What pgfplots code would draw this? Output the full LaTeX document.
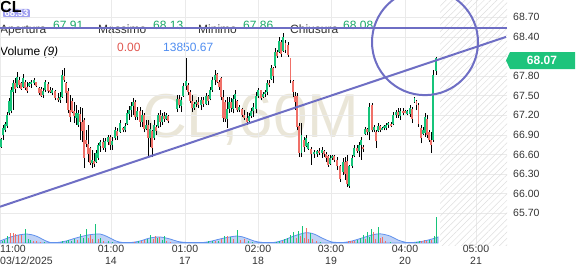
\documentclass[border=0pt]{standalone}
\usepackage{fontspec}
\setmainfont{Liberation Sans}
\usepackage{pgfplots}
\pgfplotsset{compat=1.18}
\usepackage{pgfplotstable}
\usetikzlibrary{patterns.meta}

\definecolor{cgreen}{RGB}{22,196,122}
\definecolor{cred}{RGB}{240,112,104}
\definecolor{tgreen}{RGB}{24,168,104}
\definecolor{tred}{RGB}{224,86,79}
\definecolor{tblue}{RGB}{79,141,240}
\definecolor{lpurple}{RGB}{110,110,196}
\definecolor{txt}{RGB}{51,51,51}
\definecolor{wm}{RGB}{234,230,216}
\definecolor{gridc}{RGB}{234,234,234}
\definecolor{volline}{RGB}{96,145,236}
\definecolor{volfill}{RGB}{180,202,245}
\definecolor{tagg}{RGB}{30,196,124}
\definecolor{lbox}{RGB}{158,158,240}

% green candles: x low high bodylow bodyhigh
\pgfplotstableread{
x lo hi bl bh
1 66.70 66.85 66.71 66.84
3 66.82 67.05 66.90 67.01
5 66.94 67.10 66.97 67.07
7 67.01 67.25 67.04 67.20
9 67.20 67.47 67.23 67.42
11 67.23 67.63 67.27 67.59
13 67.28 67.74 67.56 67.69
17 67.62 67.86 67.63 67.79
23 67.62 67.83 67.63 67.77
29 67.63 67.71 67.65 67.69
31 67.62 67.74 67.68 67.71
34 67.66 67.77 67.69 67.74
43 67.47 67.62 67.51 67.57
45 67.56 67.74 67.59 67.71
52 67.51 67.62 67.54 67.59
60 67.39 67.56 67.43 67.48
62 67.47 67.89 67.48 67.82
76 67.05 67.36 67.16 67.23
78 67.02 67.28 67.05 67.23
92 66.39 66.67 66.47 66.52
96 66.47 66.67 66.49 66.62
98 66.52 66.77 66.55 66.74
100 66.64 66.82 66.73 66.79
105 66.64 66.85 66.70 66.80
108 66.74 66.90 66.79 66.87
112 66.67 66.87 66.74 66.80
115 66.82 67.02 66.85 66.97
120 66.93 67.13 66.95 67.08
125 66.94 67.08 66.97 67.04
127 67.05 67.28 67.06 67.23
129 67.13 67.34 67.22 67.28
131 67.17 67.40 67.28 67.34
133 67.20 67.47 67.34 67.40
137 67.13 67.33 67.17 67.26
142 67.02 67.28 67.10 67.20
146 66.97 67.13 66.99 67.05
150 66.71 67.08 66.85 66.99
154 66.82 67.13 66.85 67.05
158 67.01 67.23 67.03 67.20
162 67.05 67.23 67.10 67.19
166 67.13 67.23 67.14 67.20
177 67.25 67.51 67.30 67.45
181 67.25 67.48 67.34 67.43
183 67.48 67.69 67.50 67.65
186 67.59 68.08 67.65 67.72
194 67.28 67.40 67.31 67.37
196 67.33 67.43 67.37 67.40
201 67.28 67.48 67.35 67.43
206 67.36 67.54 67.38 67.50
210 67.43 67.63 67.45 67.59
212 67.56 67.79 67.59 67.74
215 67.66 67.89 67.74 67.82
227 67.01 67.48 67.15 67.30
229 67.23 67.48 67.30 67.40
233 67.23 67.51 67.30 67.45
235 67.31 67.59 67.45 67.53
239 67.25 67.36 67.28 67.33
249 67.10 67.23 67.12 67.19
251 67.16 67.31 67.19 67.26
253 67.17 67.39 67.26 67.33
256 67.23 67.56 67.30 67.50
258 67.47 67.62 67.50 67.58
263 67.47 67.56 67.48 67.53
265 67.48 67.59 67.52 67.55
267 67.51 67.74 67.55 67.70
271 67.74 67.97 67.75 67.92
275 67.92 68.23 67.95 68.17
279 68.15 68.40 68.17 68.34
283 68.17 68.46 68.18 68.40
301.5 66.56 67.08 66.62 66.90
306 66.71 66.90 66.73 66.85
308 66.67 66.79 66.68 66.77
314 66.55 66.67 66.60 66.64
317 66.56 66.67 66.60 66.65
322 66.55 66.71 66.62 66.67
330 66.44 66.59 66.46 66.55
332 66.52 66.59 66.55 66.57
343 66.29 66.55 66.33 66.48
349 66.09 66.44 66.12 66.42
352 66.39 66.59 66.42 66.55
354 66.56 66.74 66.58 66.70
359 66.56 66.79 66.66 66.74
361 66.52 66.87 66.74 66.82
365 66.90 67.02 66.92 66.99
369 66.82 67.39 66.94 67.33
374 66.94 67.05 66.97 67.02
378 66.94 67.08 66.96 67.04
382 66.97 67.02 66.98 67.01
384 66.97 67.05 67.00 67.03
386 66.97 67.08 67.00 67.05
388 67.01 67.10 67.05 67.08
393 67.05 67.25 67.06 67.20
396 67.16 67.28 67.20 67.25
400 67.13 67.31 67.19 67.27
407 67.20 67.28 67.22 67.26
410 67.17 67.36 67.22 67.31
414.5 67.39 67.48 67.40 67.46
423 66.90 67.02 66.92 66.97
425 66.87 67.23 66.93 67.18
433.3 66.79 67.90 66.82 67.82
436.3 67.82 68.09 67.88 68.07
}\gtab

% red candles: x low high bodylow bodyhigh
\pgfplotstableread{
x lo hi bl bh
15 67.54 67.77 67.60 67.69
19 67.62 67.79 67.66 67.74
21 67.59 67.71 67.60 67.69
25 67.59 67.74 67.62 67.71
27 67.54 67.71 67.57 67.63
36 67.63 67.71 67.65 67.71
39 67.51 67.63 67.54 67.62
41 67.48 67.63 67.50 67.60
48 67.54 67.71 67.57 67.68
50 67.54 67.63 67.56 67.59
55 67.43 67.59 67.47 67.57
58 67.40 67.54 67.43 67.47
64 67.71 67.92 67.74 67.80
66 67.39 67.71 67.54 67.69
68 67.23 67.62 67.28 67.57
70 67.10 67.51 67.17 67.28
72 67.23 67.47 67.25 67.42
74 67.08 67.40 67.19 67.26
80 66.82 67.33 67.10 67.22
82 66.79 67.31 66.96 67.10
84 66.39 67.16 66.55 67.13
86 66.71 66.97 66.76 66.82
88 66.48 67.05 66.60 66.76
90 66.44 66.71 66.47 66.70
94 66.41 66.62 66.45 66.50
103 66.67 66.85 66.70 66.79
110 66.67 66.90 66.74 66.87
117 66.82 67.01 66.88 66.96
123 66.94 67.02 66.97 67.00
135 67.13 67.43 67.17 67.40
140 67.02 67.33 67.10 67.26
144 66.94 67.23 66.99 67.20
148 66.56 67.13 66.85 67.05
152 66.56 66.97 66.70 66.96
156 66.90 67.05 66.96 67.02
160 67.02 67.28 67.10 67.20
164 67.10 67.25 67.14 67.19
168 67.08 67.20 67.12 67.19
179 67.31 67.51 67.36 67.45
188 67.51 67.69 67.56 67.66
190 67.39 67.59 67.42 67.56
192 67.25 67.51 67.31 67.42
198 67.31 67.48 67.35 67.40
203 67.33 67.48 67.37 67.43
208 67.36 67.51 67.42 67.50
217 67.69 67.85 67.71 67.83
219 67.59 67.74 67.63 67.71
221 67.43 67.79 67.48 67.77
223 67.10 67.59 67.16 67.48
225 67.10 67.43 67.15 67.40
231 67.25 67.47 67.31 67.40
237 67.25 67.43 67.28 67.42
242 67.17 67.31 67.20 67.30
244 67.13 67.28 67.16 67.20
247 67.05 67.25 67.10 67.16
261 67.43 67.59 67.46 67.58
269 67.63 67.74 67.66 67.70
273 67.69 67.94 67.80 67.92
277 68.08 68.20 68.10 68.17
281 68.09 68.35 68.14 68.32
285.5 68.15 68.35 68.20 68.30
288 68.09 68.32 68.12 68.28
290.5 67.69 68.08 67.74 68.07
293 67.48 67.74 67.55 67.72
295 67.28 67.56 67.40 67.50
297 66.97 67.54 67.02 67.50
299 66.56 67.08 66.62 67.03
304 66.64 66.87 66.72 66.82
311 66.44 66.71 66.60 66.68
319 66.59 66.70 66.62 66.65
324 66.56 66.67 66.60 66.65
326 66.48 66.64 66.55 66.60
328 66.41 66.59 66.44 66.57
334 66.48 66.59 66.52 66.57
337 66.36 66.56 66.42 66.52
340 66.18 66.44 66.22 66.42
345 66.21 66.56 66.30 66.48
347 66.10 66.59 66.15 66.50
357 66.62 66.74 66.66 66.70
363 66.64 66.74 66.68 66.72
367 66.90 67.01 66.94 66.99
372 66.94 67.39 66.97 67.35
376 66.70 66.97 66.80 66.95
380 66.94 67.05 66.98 67.03
391 67.02 67.10 67.04 67.07
398 67.16 67.31 67.20 67.25
403 67.20 67.31 67.23 67.27
405 67.23 67.28 67.24 67.27
412 67.08 67.33 67.15 67.30
416.5 67.28 67.43 67.35 67.42
418.5 67.02 67.39 67.06 67.36
421 66.77 67.05 66.85 67.00
427 66.85 67.20 66.90 67.15
429 66.79 66.97 66.82 66.95
431 66.62 66.94 66.75 66.82
}\rtab

% volume (scaled units)
\pgfplotstableread{
x v
2 2
4 3
7 7
25 14
28 4
30 3
44 1
62 2
66 2
68 3
71 2
74 4
80 9
83 5
86 14
95 19
100 5
108 2
112 1
138 2
147 4
150 8
157 5
162 3
164 7
208 2
212 2
218 2
224 7
230 6
237 13
248 2
252 1
276 1
279 2
284 4
287 5
290 8
293 11
298 12
302 17
310 10
320 1
357 3
360 5
363 8
367 11
369 6
371 14
378 16
390 1
416 1
419 2
429 3
434 7
436.5 26
}\gvol

\pgfplotstableread{
x v
10 10
13 10
15 9
18 8
21 8
33 2
36 2
40 1
77 3
88 5
90 8
92 4
98 4
103 2
134 1
141 2
144 3
153 4
155 7
159 6
166 2
170 1
215 2
221 4
227 7
233 4
240 3
244 4
282 2
296 5
300 7
304 5
306 15
308 4
312 4
316 2
348 2
350 2
352 2
354 2
365 4
373 11
375 4
380 5
382 6
385 2
421 2
424 3
426 2
431 3
}\rvol

% volume moving average
\pgfplotstableread{
x v
0 2
8 5
16 7.5
27 9
36 7
44 3
50 0.6
58 0.6
66 2
76 5
88 8
100 9
108 6
116 2
122 0.6
132 0.6
140 2
150 5
160 6
170 4
178 1.5
186 0.6
204 0.6
212 2
222 4.5
237 7
246 5
254 2
262 0.6
274 0.6
284 3
294 7
306 10.3
314 9
322 5
332 1
344 0.6
352 2
362 5
372 8
380 9.2
390 7
398 3
406 0.6
414 0.6
424 2
432 4
438 6
}\vma

\begin{document}
\begin{tikzpicture}[x=1pt,y=1pt]
\path[use as bounding box] (0,0) rectangle (576,-268);

% watermark
\node[anchor=base west, inner sep=0pt, text=wm, font=\fontsize{62}{62}\selectfont] at (142,-137) {CL,60M};

% header
\node[fill=lbox, rounded corners=2pt, text=white, inner xsep=1.5pt, inner ysep=1.2pt, anchor=west, font=\bfseries\fontsize{9.5}{10}\selectfont] at (3,-13.5) {68.53};
\node[anchor=base west, inner sep=0pt, font=\bfseries\fontsize{16}{16}\selectfont] at (0,-12.5) {CL};
\begin{scope}[every node/.style={anchor=base west, inner sep=0pt, font=\fontsize{12}{14}\selectfont}]
\node[text=txt] at (0,-33) {Apertura};
\node[text=tgreen] at (53,-29.3) {67.91};
\node[text=txt] at (98,-33) {Massimo};
\node[text=tgreen] at (153,-29.3) {68.13};
\node[text=txt] at (198,-33) {Minimo};
\node[text=tgreen] at (243,-29.3) {67.86};
\node[text=txt] at (290,-33) {Chiusura};
\node[text=tgreen] at (343,-29.3) {68.08};
\node[text=black] at (0,-55) {Volume \textit{(9)}};
\node[text=tred] at (117,-51.7) {0.00};
\node[text=tblue] at (163,-51.7) {13850.67};
\end{scope}

\begin{axis}[
  at={(0,0)}, anchor=north west,
  scale only axis, width=507pt, height=245pt,
  xmin=0, xmax=507, ymin=65.214, ymax=68.965,
  axis line style={draw=none}, major tick length=0pt,
  ytick={65.7,66.0,66.3,66.6,66.9,67.2,67.5,67.8,68.4,68.7},
  extra y ticks={68.1}, extra y tick labels={},
  yticklabel pos=right,
  yticklabel={\pgfmathprintnumber[fixed,fixed zerofill,precision=2,assume math mode=true]{\tick}},
  yticklabel style={anchor=west, inner sep=0pt, xshift=6pt, text=txt, font=\fontsize{10.5}{12}\selectfont},
  xtick={111,185,258,331,405,476},
  xticklabels={{01:00\\14},{01:00\\17},{02:00\\18},{03:00\\19},{04:00\\20},{05:00\\21}},
  xticklabel style={align=center, inner sep=0pt, text=txt, font=\fontsize{10.5}{12}\selectfont},
  extra x ticks={0},
  extra x tick labels={{11:00\\03/12/2025}},
  extra x tick style={xticklabel style={anchor=north west, align=left}},
  grid=major, major grid style={draw=gridc, line width=0.7pt},
  extra tick style={grid=major},
]
\fill[pattern={Lines[angle=45,distance=4.5pt,line width=0.5pt]}, pattern color=black!13] (axis cs:440,65.214) rectangle (axis cs:507,68.965);

\addplot[draw=none, mark=none, error bars/.cd, y dir=plus, y explicit, error mark=none,
  error bar style={draw=black, line width=0.75pt}]
  table[x=x, y=lo, y error plus expr=\thisrow{hi}-\thisrow{lo}] {\gtab};
\addplot[draw=none, mark=none, error bars/.cd, y dir=plus, y explicit, error mark=none,
  error bar style={draw=black, line width=0.75pt}]
  table[x=x, y=lo, y error plus expr=\thisrow{hi}-\thisrow{lo}] {\rtab};
\addplot[draw=none, mark=none, error bars/.cd, y dir=plus, y explicit, error mark=none,
  error bar style={draw=cgreen, line width=1.9pt}]
  table[x=x, y=bl, y error plus expr=\thisrow{bh}-\thisrow{bl}] {\gtab};
\addplot[draw=none, mark=none, error bars/.cd, y dir=plus, y explicit, error mark=none,
  error bar style={draw=cred, line width=1.9pt}]
  table[x=x, y=bl, y error plus expr=\thisrow{bh}-\thisrow{bl}] {\rtab};

\addplot[lpurple, line width=2pt] coordinates {(0,68.53) (507,68.53)};
\addplot[lpurple, line width=2pt] coordinates {(0,65.80) (506,68.40)};
\draw[lpurple, line width=2pt] (axis cs:425,68.32) circle[radius=53pt];
\end{axis}

\begin{axis}[
  at={(0,0)}, anchor=north west,
  scale only axis, width=507pt, height=245pt,
  xmin=0, xmax=507, ymin=-2, ymax=243, hide axis,
]
\addplot[draw=volline, fill=volfill, fill opacity=0.85, line width=0.8pt, smooth] table[x=x,y=v] {\vma} \closedcycle;
\addplot[ycomb, draw=cgreen, line width=1pt, mark=none] table[x=x,y=v] {\gvol};
\addplot[ycomb, draw=cred, line width=1pt, mark=none] table[x=x,y=v] {\rvol};
\end{axis}

% last price tag
\fill[tagg] (506,-60.5) -- (510,-52) -- (575,-52) -- (575,-69) -- (510,-69) -- cycle;
\node[text=white, inner sep=0pt, font=\bfseries\fontsize{12}{12}\selectfont] at (542,-60.5) {68.07};
\end{tikzpicture}
\end{document}
